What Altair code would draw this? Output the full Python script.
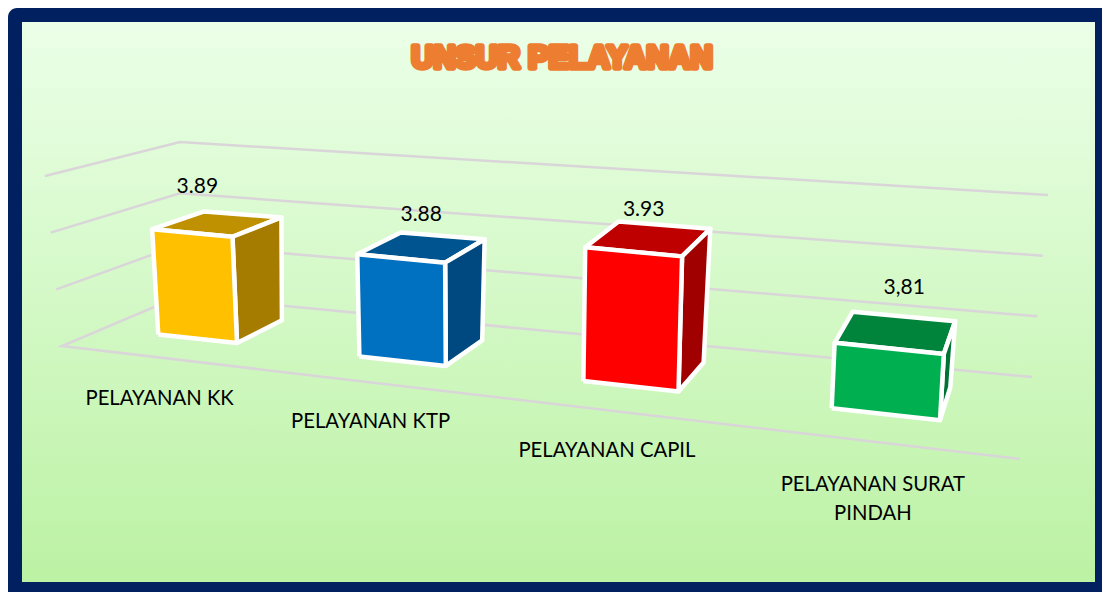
import altair as alt
import numpy as np
import pandas as pd

# ---- chart values ----
CATEGORIES = ["PELAYANAN KK", "PELAYANAN KTP", "PELAYANAN CAPIL", "PELAYANAN SURAT\nPINDAH"]
VALUES = [3.89, 3.88, 3.93, 3.81]
VALUE_TEXT = ["3.89", "3.88", "3.93", "3,81"]
GRID_LEVELS = [3.7, 3.8, 3.9, 4.0]
TITLE = "UNSUR PELAYANAN"

# ---- styles ----
FRONT = ["#FFC000", "#0070C0", "#FF0000", "#00B050"]
SIDE = ["#A67C00", "#004980", "#A00000", "#007234"]
TOP = ["#BF9000", "#005490", "#BF0000", "#00843C"]

# ---- 3-D frame: screen corners of the floor, and how far the full value
# range rises above each floor corner ----
FLOOR = [(62, 346), (1020, 459), (1032, 377), (180, 296)]
RISE = [(-17, -170), (10, -181), (16, -182), (0, -154)]
BAR_U = [(0.078, 0.185), (0.340, 0.442), (0.593, 0.690), (0.835, 0.930)]
BAR_V = (0.325, 0.750)
VALUE_OFFSET = [(5, -46), (20, -43), (10, -42), (15, -60)]
CATEGORY_OFFSET = [(-38, 60), (-32, 61), (-24, 65), (-13, 71)]


def homography(c):
    src = [(0, 0), (1, 0), (1, 1), (0, 1)]
    A, b = [], []
    for (u, v), (x, y) in zip(src, c):
        A.append([u, v, 1, 0, 0, 0, -u * x, -v * x]); b.append(x)
        A.append([0, 0, 0, u, v, 1, -u * y, -v * y]); b.append(y)
    return np.append(np.linalg.solve(np.array(A, float), np.array(b, float)), 1).reshape(3, 3)


H0 = homography(FLOOR)
R = np.array(RISE, float)


def project(u, v, value):
    t = (value - GRID_LEVELS[0]) / (GRID_LEVELS[-1] - GRID_LEVELS[0])
    p0 = H0 @ [u, v, 1]
    p0 = p0[:2] / p0[2]
    rise = (1 - v) * ((1 - u) * R[0] + u * R[1]) + v * (u * R[2] + (1 - u) * R[3])
    return p0 + rise * t


X = alt.Scale(domain=[8, 1102], nice=False, zero=False)
Y = alt.Scale(domain=[592, 8], nice=False, zero=False)


def xy(xf="x:Q", yf="y:Q"):
    return dict(x=alt.X(xf, scale=X, axis=None), y=alt.Y(yf, scale=Y, axis=None))


layers = []

# frame
panel = pd.DataFrame({"x": [8], "x2": [1130], "y": [8], "y2": [612]})
layers.append(alt.Chart(panel).mark_rect(fill="#002060", cornerRadius=9).encode(
    **xy(), x2="x2:Q", y2="y2:Q"))
inner = pd.DataFrame({"x": [22], "x2": [1095], "y": [22], "y2": [582]})
layers.append(alt.Chart(inner).mark_rect(
    fill=alt.Gradient(gradient="linear", x1=0, x2=0, y1=0, y2=1,
                      stops=[alt.GradientStop(color="#EBFFE8", offset=0),
                             alt.GradientStop(color="#BCF2A4", offset=1)])
).encode(**xy(), x2="x2:Q", y2="y2:Q"))

# grid
rows = []
for lv in GRID_LEVELS:
    path = [(0, 0), (0, 1), (1, 1)]
    if lv == GRID_LEVELS[0]:
        path = [(1, 0)] + path
    for i, (u, v) in enumerate(path):
        px, py = project(u, v, lv)
        rows.append({"level": lv, "i": i, "x": px, "y": py})
layers.append(alt.Chart(pd.DataFrame(rows)).mark_line(
    color="#D9D5D9", strokeWidth=2.5, strokeJoin="miter").encode(
    **xy(), detail="level:N", order="i:Q"))

# bars
value_rows, cat_rows = [], []
for b, val in enumerate(VALUES):
    u0, u1 = BAR_U[b]
    v0, v1 = BAR_V
    base = GRID_LEVELS[0]
    faces = [
        (TOP[b], [(u0, v0, val), (u1, v0, val), (u1, v1, val), (u0, v1, val)]),
        (SIDE[b], [(u1, v0, base), (u1, v1, base), (u1, v1, val), (u1, v0, val)]),
        (FRONT[b], [(u0, v0, base), (u1, v0, base), (u1, v0, val), (u0, v0, val)]),
    ]
    for col, pts in faces:
        rows = []
        for i, p in enumerate(pts + pts[:1]):
            px, py = project(*p)
            rows.append({"i": i, "x": px, "y": py})
        layers.append(alt.Chart(pd.DataFrame(rows)).mark_line(
            fill=col, stroke="white", strokeWidth=4.5, strokeJoin="round").encode(
            **xy(), order="i:Q"))
    tx, ty = (project(u0, v0, val) + project(u1, v0, val)) / 2
    value_rows.append({"x": tx + VALUE_OFFSET[b][0], "y": ty + VALUE_OFFSET[b][1], "t": VALUE_TEXT[b]})
    bx, by = (project(u0, v0, base) + project(u1, v0, base)) / 2
    cat_rows.append({"x": bx + CATEGORY_OFFSET[b][0], "y": by + CATEGORY_OFFSET[b][1], "t": CATEGORIES[b]})

layers.append(alt.Chart(pd.DataFrame(value_rows)).mark_text(
    font="Lato", fontSize=21, color="#000000", align="center", baseline="middle").encode(
    **xy(), text="t:N"))
layers.append(alt.Chart(pd.DataFrame(cat_rows)).mark_text(
    font="Lato", fontSize=20.3, color="#000000", align="center", baseline="middle",
    lineBreak="\n", lineHeight=29).encode(**xy(), text="t:N"))

# title
layers.append(alt.Chart(pd.DataFrame({"x": [562], "y": [59], "t": [TITLE]})).mark_text(
    font="Liberation Sans", fontWeight="bold", fontSize=30.5, fill="#F08034", stroke="#ED7D31",
    strokeWidth=5.5, strokeJoin="round", align="center", baseline="middle").encode(
    **xy(), text="t:N"))

chart = alt.layer(*layers).properties(
    width=1094, height=584,
    padding=0, autosize=alt.AutoSizeParams(type="none"),
    background="white",
).configure_view(stroke=None)

chart.save("out.html", embed_options={"renderer": "svg", "actions": False})
